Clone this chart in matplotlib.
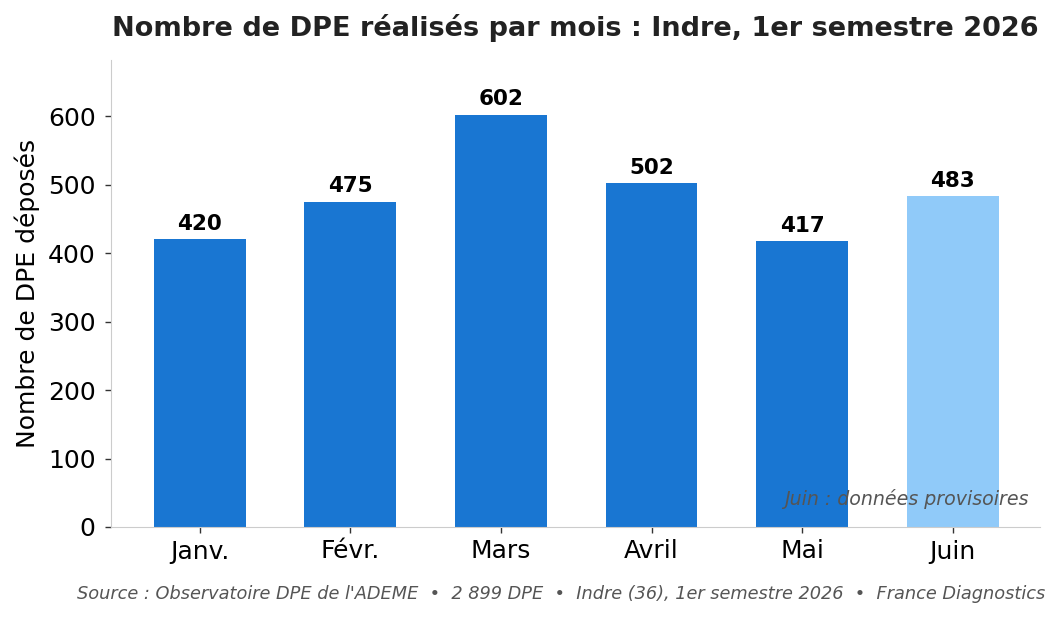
import matplotlib
matplotlib.use("Agg")
import matplotlib.pyplot as plt

months = ["Janv.", "Févr.", "Mars", "Avril", "Mai", "Juin"]
values = [420, 475, 602, 502, 417, 483]
provisional = [False, False, False, False, False, True]
title = "Nombre de DPE réalisés par mois : Indre, 1er semestre 2026"
ylabel = "Nombre de DPE déposés"
note = "Juin : données provisoires"
source = "Source : Observatoire DPE de l'ADEME  •  2 899 DPE  •  Indre (36), 1er semestre 2026  •  France Diagnostics"

fig = plt.figure(figsize=(10.6, 6.18), dpi=100)
ax = fig.add_axes([111/1060, 1 - 527/618, (1040-111)/1060, (527-60)/618])

colors = ["#90CAF9" if p else "#1976D2" for p in provisional]
x = list(range(len(months)))
bars = ax.bar(x, values, width=0.61, color=colors)
for xi, v in zip(x, values):
    ax.text(xi, v + 8, str(v), ha="center", va="bottom", fontsize=15.5, fontweight="bold", color="black")

ax.set_xticks(x)
ax.set_xticklabels(months, fontsize=18)
ax.tick_params(axis="y", labelsize=18, pad=7)
ax.tick_params(axis="x", pad=5)
ax.tick_params(axis="both", length=4, width=1, color="#333333")
ax.set_ylim(0, 682)
ax.set_xlim(-0.59, 5.58)
ax.set_ylabel(ylabel, fontsize=18, labelpad=6)
for s in ["top", "right"]:
    ax.spines[s].set_visible(False)
for s in ["left", "bottom"]:
    ax.spines[s].set_color("#cccccc")

fig.text(575.5/1060, 1 - 28/618, title, ha="center", va="center", fontsize=19.5, fontweight="bold", color="#222222")
ax.text(0.988, 0.06, note, transform=ax.transAxes, ha="right", va="center", fontsize=13.7, style="italic", color="#555555")
fig.text(1045/1060, 1 - 594/618, source, ha="right", va="center", fontsize=12.8, style="italic", color="#555555")

fig.savefig("out.png", dpi=100)
